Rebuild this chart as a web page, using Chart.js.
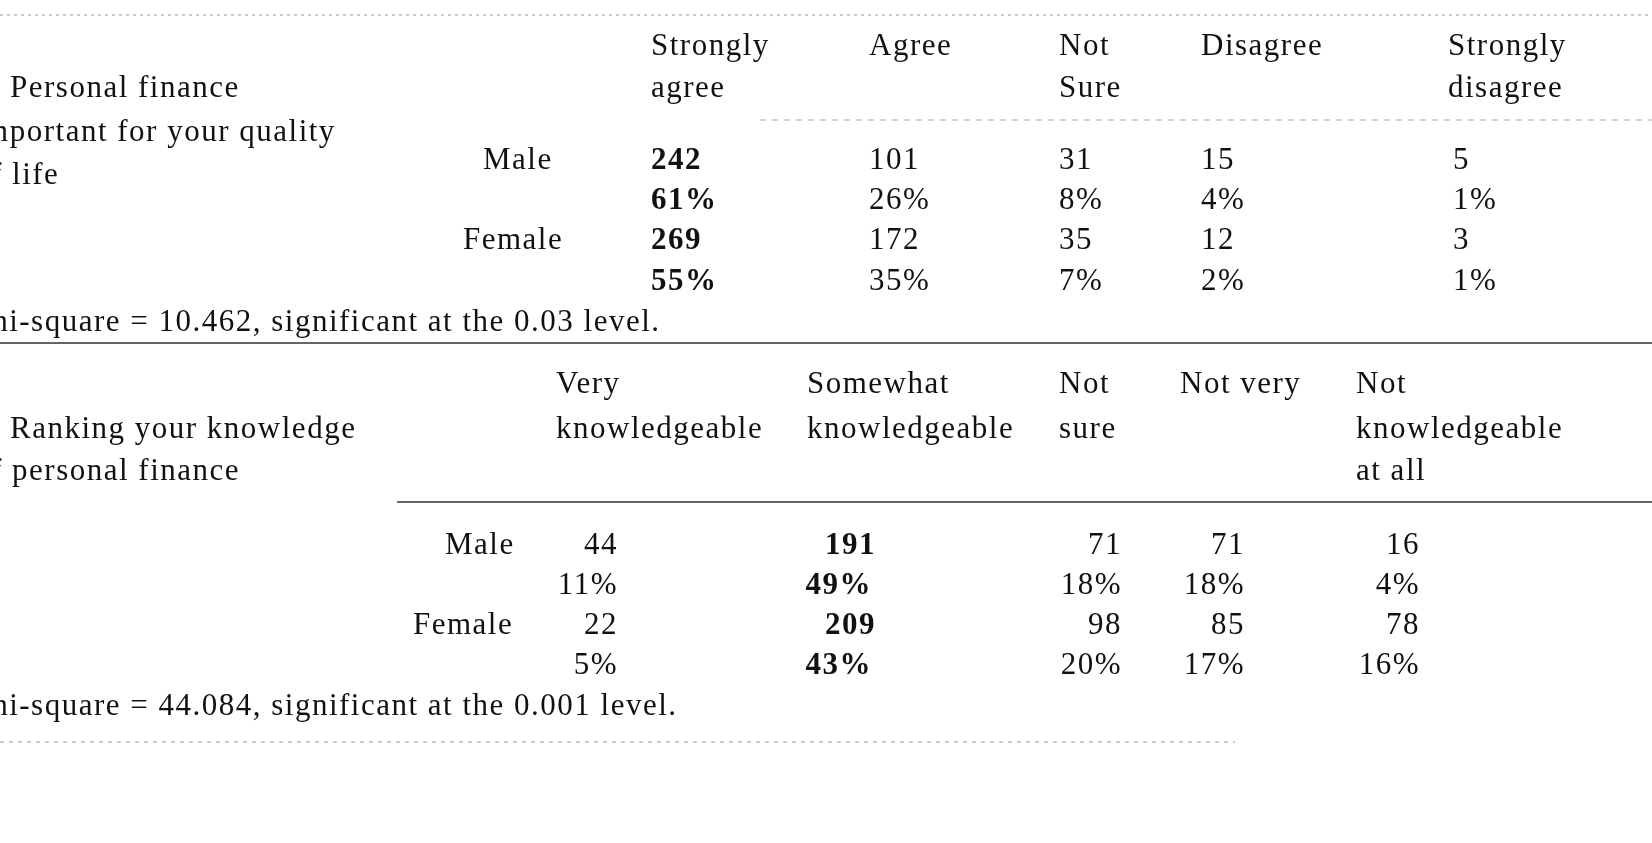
<!DOCTYPE html>
<html><head><meta charset="utf-8">
<script src="https://cdn.jsdelivr.net/npm/chart.js@4.4.0/dist/chart.umd.min.js"></script>
<style>html,body{margin:0;padding:0;background:#fff}#wrap{width:1652px;height:843px}</style>
</head><body><div id="wrap"><canvas id="c" width="1652" height="843"></canvas></div>
<script>
// ---- data ----
const t1Header1 = ["Strongly","Agree","Not","Disagree","Strongly"];
const t1Header2 = ["agree","","Sure","","disagree"];
const t1Male = [242,101,31,15,5];
const t1MalePct = ["61%","26%","8%","4%","1%"];
const t1Female = [269,172,35,12,3];
const t1FemalePct = ["55%","35%","7%","2%","1%"];
const t1Label = ["Personal finance","important for your quality","of life"];
const t1Note = "Chi-square = 10.462, significant at the 0.03 level.";
const t2Header1 = ["Very","Somewhat","Not","Not very","Not"];
const t2Header2 = ["knowledgeable","knowledgeable","sure","","knowledgeable"];
const t2Header3 = ["","","","","at all"];
const t2Male = [44,191,71,71,16];
const t2MalePct = ["11%","49%","18%","18%","4%"];
const t2Female = [22,209,98,85,78];
const t2FemalePct = ["5%","43%","20%","17%","16%"];
const t2Label = ["Ranking your knowledge","of personal finance"];
const t2Note = "Chi-square = 44.084, significant at the 0.001 level.";
const groups = ["Male","Female"];

// ---- layout (separate from data) ----
const t1X = [651,869,1059,1201,1448];
const t1RowY = [161,201,241,282];
const t2HeadX = [556,807,1059,1180,1356];
const t2RightX = [618,872,1122,1245,1420];
const t2RowY = [546,586,626,666];

const pts = [];
function add(x,y,text,opt={}) { pts.push({x,y,text,align:opt.align||'left',bold:!!opt.bold}); }
t1Header1.forEach((t,i)=>add(t1X[i],47,t));
t1Header2.forEach((t,i)=>t&&add(t1X[i],89,t));
add(10,89,t1Label[0]); add(-26,133,t1Label[1]); add(-26,176,t1Label[2]);
add(483,161,groups[0]); add(463,241,groups[1]);
[t1Male,t1MalePct,t1Female,t1FemalePct].forEach((row,r)=>row.forEach((v,i)=>add(t1X[i]+(i==4?5:0),t1RowY[r],String(v),{bold:i==0})));
add(-30,323,t1Note);
t2Header1.forEach((t,i)=>add(t2HeadX[i],385,t));
t2Header2.forEach((t,i)=>t&&add(t2HeadX[i],430,t));
t2Header3.forEach((t,i)=>t&&add(t2HeadX[i],472,t));
add(10,430,t2Label[0]); add(-26,472,t2Label[1]);
add(445,546,groups[0]); add(413,626,groups[1]);
[t2Male,t2MalePct,t2Female,t2FemalePct].forEach((row,r)=>row.forEach((v,i)=>add(t2RightX[i]+((r%2==0&&i==1)?4:0),t2RowY[r],String(v),{align:'right',bold:i==1})));
add(-30,707,t2Note);

const rules = [
  {x0:0,x1:1652,y:15,dash:[3,4],w:1,c:'#999'},
  {x0:760,x1:1652,y:120,dash:[6,6],w:1,c:'#aaa'},
  {x0:0,x1:1652,y:343,dash:[],w:1.5,c:'#333'},
  {x0:397,x1:1652,y:502,dash:[],w:1.5,c:'#333'},
  {x0:0,x1:1235,y:742,dash:[4,5],w:1,c:'#999'}
];

const textPlugin = {
  id:'cells',
  afterDatasetsDraw(chart){
    const ctx = chart.ctx, xs = chart.scales.x, ys = chart.scales.y;
    ctx.save();
    rules.forEach(r=>{
      ctx.beginPath(); ctx.setLineDash(r.dash); ctx.lineWidth=r.w; ctx.strokeStyle=r.c;
      ctx.moveTo(xs.getPixelForValue(r.x0),ys.getPixelForValue(r.y));
      ctx.lineTo(xs.getPixelForValue(r.x1),ys.getPixelForValue(r.y)); ctx.stroke();
    });
    ctx.setLineDash([]);
    const meta = chart.getDatasetMeta(0);
    meta.data.forEach((el,i)=>{
      const p = pts[i];
      ctx.font = (p.bold?'bold ':'')+'31px "Liberation Serif", serif';
      ctx.letterSpacing = '1.5px';
      ctx.fillStyle = '#111'; ctx.textAlign = p.align; ctx.textBaseline='middle';
      ctx.fillText(p.text, el.x, el.y);
    });
    ctx.restore();
  }
};

new Chart(document.getElementById('c'),{
  type:'scatter',
  data:{datasets:[{data:pts.map(p=>({x:p.x,y:p.y})),pointRadius:0,pointHoverRadius:0}]},
  options:{
    responsive:false,animation:false,
    layout:{padding:0},
    plugins:{legend:{display:false},tooltip:{enabled:false}},
    scales:{
      x:{type:'linear',min:0,max:1652,display:false},
      y:{type:'linear',min:0,max:843,reverse:true,display:false}
    }
  },
  plugins:[textPlugin]
});
</script></body></html>
